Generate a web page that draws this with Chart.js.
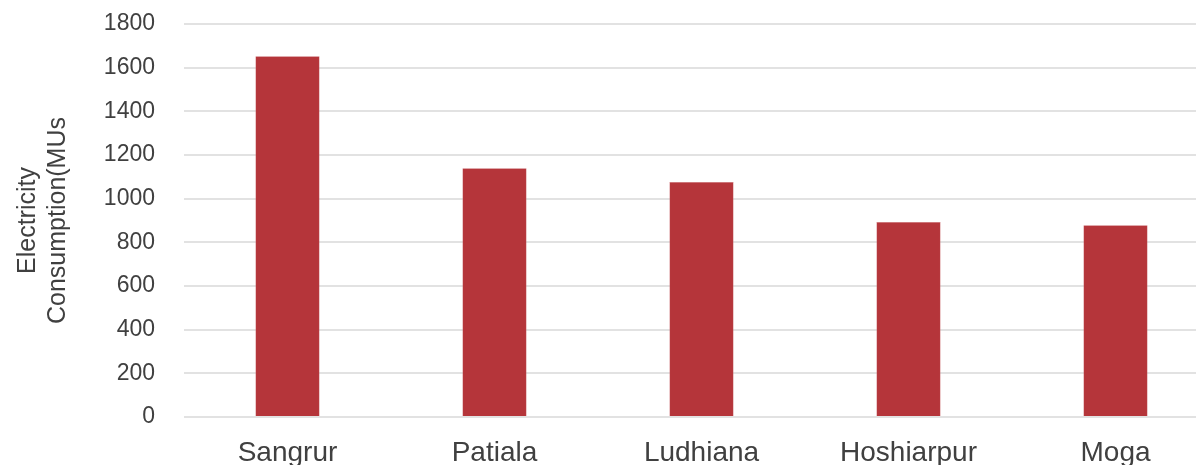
<!DOCTYPE html>
<html>
<head>
<meta charset="utf-8">
<script src="https://cdn.jsdelivr.net/npm/chart.js@4.4.1/dist/chart.umd.min.js"></script>
<style>
  html, body { margin: 0; padding: 0; background: #ffffff; overflow: hidden; }
  #wrap { position: relative; width: 1219px; height: 482px; }
</style>
</head>
<body>
<div id="wrap"><canvas id="c"></canvas></div>
<script>
const categories = ["Sangrur", "Patiala", "Ludhiana", "Hoshiarpur", "Moga"];
const consumption = [1652, 1139, 1076, 893, 878];
const yTitle = ["Electricity", "Consumption(MUs"];
const yMin = 0, yMax = 1800, yStep = 200;

const textColor = "#404040";
const fontFamily = "'Liberation Sans', Arial, sans-serif";

new Chart(document.getElementById("c"), {
  type: "bar",
  data: {
    labels: categories,
    datasets: [{
      data: consumption,
      backgroundColor: "#B5353A",
      borderColor: "#C9686C",
      borderWidth: 0.6,
      categoryPercentage: 1,
      barPercentage: 0.31
    }]
  },
  options: {
    responsive: true,
    maintainAspectRatio: false,
    animation: false,
    devicePixelRatio: 1,
    layout: { padding: { top: 24, left: 0, right: 0, bottom: 0 } },
    plugins: { legend: { display: false }, tooltip: { enabled: false } },
    scales: {
      x: {
        offset: true,
        grid: { display: false, drawTicks: false },
        border: { display: false },
        ticks: { color: textColor, font: { family: fontFamily, size: 28 }, padding: 19, maxRotation: 0 },
        afterFit: (s) => { s.height = 482 - 417; }
      },
      y: {
        min: yMin, max: yMax,
        grid: { color: "#e2e2e2", lineWidth: 2, drawTicks: true, tickLength: 26, tickColor: "rgba(0,0,0,0)" },
        border: { display: false },
        ticks: {
          stepSize: yStep, color: textColor, font: { family: fontFamily, size: 23 }, padding: 3,
          callback: (v) => String(v)
        },
        title: {
          display: true,
          text: yTitle,
          color: textColor,
          font: { family: fontFamily, size: 25 },
          lineHeight: 1.15,
          padding: { top: 13, bottom: 0 }
        },
        afterFit: (s) => { s.width = 184; }
      }
    }
  }
});
</script>
</body>
</html>
